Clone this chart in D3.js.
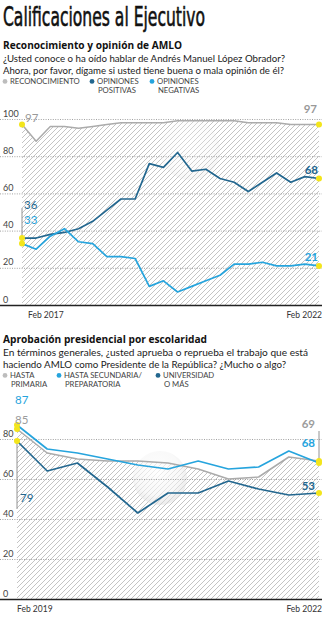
<!DOCTYPE html>
<html>
<head>
<meta charset="utf-8">
<script src="https://cdn.jsdelivr.net/npm/d3@7"></script>
<style>
  body { margin: 0; background: #fff; }
  svg { display: block; font-family: Lato, "Open Sans", sans-serif; }
</style>
</head>
<body>
<div id="chart"></div>
<script>
const width = 325;
const height = 620;

// Reconocimiento y opinión de AMLO (%, quarterly waves)
const reconocimiento = [97, 88, 96, 96, 95, 96, 97, 98, 98, 98, 98, 99, 99, 99, 99, 99, 98, 98, 98, 97, 97, 97];
const positivas = [36, 36, 38, 39, 41, 45, 51, 57, 57, 76, 74, 82, 72, 73, 68, 66, 61, 66, 71, 66, 69, 68];
const negativas = [33, 30, 37, 41, 34, 33, 26, 26, 25, 10, 13, 7, 10, 13, 16, 22, 22, 23, 21, 21, 22, 21];
const dates1 = ["Feb 2017", "Feb 2022"];
const ticks1 = [0, 20, 40, 60, 80, 100];

// Aprobación presidencial por escolaridad (%)
const primaria = [85, 73, 70, 69, 69, 68, 65, 60, 61, 71, 69];
const secundaria = [87, 75, 73, 70, 67, 65, 69, 65, 66, 74, 68];
const universidad = [79, 64, 68, 56, 43, 53, 53, 59, 55, 52, 53];
const dates2 = ["Feb 2019", "Feb 2022"];
const ticks2 = [0, 20, 40, 60, 80];

const gray = "#ababab";
const dark = "#23678f";
const light = "#26a4dd";
const yellow = "#f3e51c";

const svg = d3
  .select("#chart")
  .append("svg")
  .attr("width", width)
  .attr("height", height);

const defs = svg.append("defs");

// diagonal hatching used under the top series
defs
  .append("pattern")
  .attr("id", "hatch")
  .attr("patternUnits", "userSpaceOnUse")
  .attr("width", 5)
  .attr("height", 5)
  .append("path")
  .attr("d", "M-1,1 l2,-2 M0,5 l5,-5 M4,6 l2,-2")
  .attr("stroke", "#bdbdbd")
  .attr("stroke-width", 0.9);

const glass = defs
  .append("radialGradient")
  .attr("id", "glass")
  .attr("cx", "45%")
  .attr("cy", "40%")
  .attr("r", "60%");
glass.append("stop").attr("offset", "0%").attr("stop-color", "#fff").attr("stop-opacity", 0.9);
glass.append("stop").attr("offset", "70%").attr("stop-color", "#f4f4f4").attr("stop-opacity", 0.7);
glass.append("stop").attr("offset", "100%").attr("stop-color", "#d9d9d9").attr("stop-opacity", 0.6);

// Heading
svg
  .append("text")
  .attr("x", 3)
  .attr("y", 26)
  .attr("font-family", "'Liberation Sans Narrow', 'DejaVu Sans Condensed', sans-serif")
  .attr("font-size", 27)
  .attr("textLength", 202)
  .attr("lengthAdjust", "spacingAndGlyphs")
  .attr("fill", "#111")
  .attr("stroke", "#111")
  .attr("stroke-width", 0.6)
  .text("Calificaciones al Ejecutivo");

// title, question (with the width each line takes) and legend of a block
function header(top, title, lines, legend) {
  svg
    .append("text")
    .attr("x", 3)
    .attr("y", top)
    .attr("font-family", "'Open Sans', sans-serif")
    .attr("font-size", 10.5)
    .attr("font-weight", 700)
    .attr("textLength", title.w)
    .attr("lengthAdjust", "spacingAndGlyphs")
    .attr("fill", "#111")
    .text(title.text);

  lines.forEach((l, i) => {
    svg
      .append("text")
      .attr("x", 3)
      .attr("y", top + 12.5 * (i + 1))
      .attr("font-size", 9.8)
      .attr("textLength", l.w)
      .attr("lengthAdjust", "spacingAndGlyphs")
      .attr("fill", "#222")
      .text(l.text);
  });

  const ly = top + 12.5 * lines.length + 10;
  legend.forEach(item => {
    svg
      .append("circle")
      .attr("cx", item.x)
      .attr("cy", ly - 2.6)
      .attr("r", 2.4)
      .attr("fill", item.color);
    const t = svg
      .append("text")
      .attr("x", item.x + 5)
      .attr("y", ly)
      .attr("font-size", 7.7)
      .attr("fill", "#444");
    item.label.forEach((s, i) =>
      t
        .append("tspan")
        .attr("x", item.x + 5 + (i ? 1 : 0))
        .attr("dy", i ? 9 : 0)
        .text(s)
    );
  });
}

function panel(cfg) {
  const n = cfg.top.length;
  const x = d3.scaleLinear().domain([0, n - 1]).range(cfg.xRange);
  const y = d3.scaleLinear().domain([0, 100]).range(cfg.yRange);
  const g = svg.append("g");

  // hatched area under the top series
  g.append("path")
    .datum(cfg.top)
    .attr("fill", "url(#hatch)")
    .attr(
      "d",
      d3
        .area()
        .x((d, i) => x(i))
        .y0(y(0))
        .y1(d => y(d))
    );

  g.append("circle")
    .attr("cx", cfg.glass[0])
    .attr("cy", cfg.glass[1])
    .attr("r", cfg.glass[2])
    .attr("fill", "url(#glass)")
    .attr("opacity", cfg.glass[3]);

  // value grid, labels sit on top of each line
  const axis = g
    .append("g")
    .call(
      d3
        .axisRight(y)
        .tickValues(cfg.ticks)
        .tickSize(322)
        .tickFormat(d3.format("d"))
    );
  axis.select(".domain").remove();
  axis
    .selectAll(".tick line")
    .attr("stroke", d => (d === 0 ? "#222" : "#8a8a8a"))
    .attr("stroke-width", d => (d === 0 ? 1.6 : 0.8))
    .attr("stroke-dasharray", d => (d === 0 ? null : "1,1.4"));
  axis
    .selectAll(".tick text")
    .attr("x", 3)
    .attr("dy", -3)
    .attr("text-anchor", "start")
    .attr("font-family", "Lato, sans-serif")
    .attr("font-size", 9)
    .attr("fill", "#444");

  // period labels
  g.append("text")
    .attr("x", x(0) + cfg.firstDateDx)
    .attr("y", y(0) + 13)
    .attr("font-size", 8.5)
    .attr("fill", "#333")
    .text(cfg.dates[0]);
  g.append("text")
    .attr("x", x(n - 1) + 3)
    .attr("y", y(0) + 13)
    .attr("text-anchor", "end")
    .attr("font-size", 8.5)
    .attr("fill", "#333")
    .text(cfg.dates[1]);

  const line = d3
    .line()
    .x((d, i) => x(i))
    .y(d => y(d));

  cfg.series.forEach(s => {
    g.append("path")
      .datum(s.values)
      .attr("fill", "none")
      .attr("stroke", s.color)
      .attr("stroke-width", s.width)
      .attr("stroke-linejoin", "round")
      .attr("d", line);
  });

  // leader lines next to the opening / closing labels
  cfg.leaders.forEach(l => {
    g.append("line")
      .attr("x1", x(l.i))
      .attr("x2", x(l.i))
      .attr("y1", y(l.from) + l.dy1)
      .attr("y2", y(l.to) + l.dy2)
      .attr("stroke", "#777")
      .attr("stroke-width", 0.8);
  });

  cfg.series.forEach(s => {
    [0, n - 1].forEach(i => {
      g.append("circle")
        .attr("cx", x(i))
        .attr("cy", y(s.values[i]))
        .attr("r", 3)
        .attr("fill", yellow);
    });
  });

  cfg.labels.forEach(l => {
    const s = cfg.series[l.s];
    const i = l.end ? n - 1 : 0;
    const v = s.values[i];
    g.append("text")
      .attr("x", x(i) + l.dx)
      .attr("y", y(v) + l.dy)
      .attr("text-anchor", l.end ? "end" : "start")
      .attr("font-size", 11.5)
      .attr("font-weight", l.end ? 700 : 400)
      .attr("fill", s.label || s.color)
      .text(v);
  });
}

header(
  49,
  { text: "Reconocimiento y opinión de AMLO", w: 179 },
  [
    { text: "¿Usted conoce o ha oído hablar de Andrés Manuel López Obrador?", w: 282 },
    { text: "Ahora, por favor, dígame si usted tiene buena o mala opinión de él?", w: 281 }
  ],
  [
    { x: 5, color: "#bdbdbd", label: ["RECONOCIMIENTO"] },
    { x: 92, color: dark, label: ["OPINIONES", "POSITIVAS"] },
    { x: 152, color: light, label: ["OPINIONES", "NEGATIVAS"] }
  ]
);

panel({
  top: reconocimiento,
  xRange: [22, 319],
  yRange: [305, 119],
  ticks: ticks1,
  dates: dates1,
  firstDateDx: 6,
  glass: [190, 150, 30, 0.35],
  series: [
    { values: reconocimiento, color: gray, width: 1.5, label: "#999" },
    { values: positivas, color: dark, width: 1.7 },
    { values: negativas, color: light, width: 1.7 }
  ],
  leaders: [{ i: 0, from: 36, to: 33, dy1: -30, dy2: 0 }],
  labels: [
    { s: 0, end: false, dx: 3, dy: -3 },
    { s: 1, end: false, dx: 2, dy: -29 },
    { s: 2, end: false, dx: 2, dy: -20 },
    { s: 0, end: true, dx: -2, dy: -12 },
    { s: 1, end: true, dx: -1, dy: -5 },
    { s: 2, end: true, dx: -1, dy: -5 }
  ]
});

header(
  343,
  { text: "Aprobación presidencial por escolaridad", w: 204 },
  [
    { text: "En términos generales, ¿usted aprueba o reprueba el trabajo que está", w: 305 },
    { text: "haciendo AMLO como Presidente de la República? ¿Mucho o algo?", w: 283 }
  ],
  [
    { x: 5, color: "#bdbdbd", label: ["HASTA", "PRIMARIA"] },
    { x: 59, color: light, label: ["HASTA SECUNDARIA/", "PREPARATORIA"] },
    { x: 158, color: dark, label: ["UNIVERSIDAD", "O MÁS"] }
  ]
);

panel({
  top: primaria,
  xRange: [17, 319],
  yRange: [599, 399],
  ticks: ticks2,
  dates: dates2,
  firstDateDx: 0,
  glass: [160, 478, 27, 0.8],
  series: [
    { values: primaria, color: gray, width: 1.5, label: "#9c9c9c" },
    { values: secundaria, color: light, width: 1.7 },
    { values: universidad, color: dark, width: 1.7 }
  ],
  leaders: [
    { i: 0, from: 79, to: 79, dy1: 0, dy2: 68 },
    { i: 10, from: 68, to: 68, dy1: -32, dy2: 0 }
  ],
  labels: [
    { s: 1, end: false, dx: -2, dy: -21 },
    { s: 0, end: false, dx: -2, dy: -5 },
    { s: 2, end: false, dx: 3, dy: 61 },
    { s: 0, end: true, dx: -4, dy: -33 },
    { s: 1, end: true, dx: -4, dy: -16 },
    { s: 2, end: true, dx: -4, dy: -3 }
  ]
});
</script>
</body>
</html>
